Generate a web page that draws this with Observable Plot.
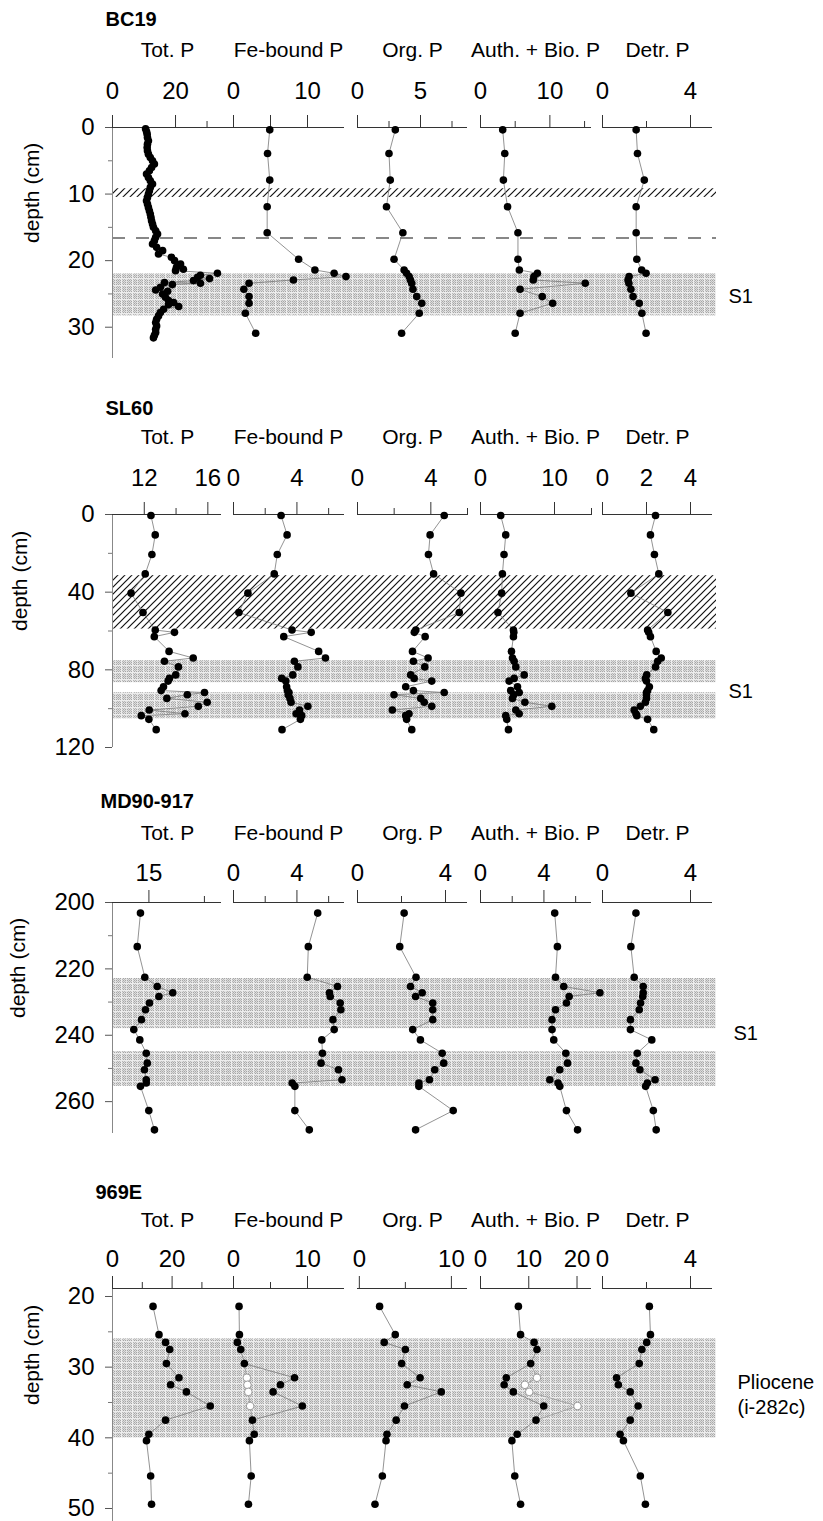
<!DOCTYPE html>
<html><head><meta charset="utf-8">
<script src="https://cdn.jsdelivr.net/npm/d3@7"></script>
<script src="https://cdn.jsdelivr.net/npm/@observablehq/plot@0.6"></script>
<style>
html,body{margin:0;padding:0;background:#fff;overflow:hidden;width:823px;height:1521px;}
#page{position:relative;width:823px;height:1521px;overflow:hidden;}
.core{position:absolute;left:0;width:823px;}
.core svg{position:absolute;top:0;overflow:visible;}
</style></head><body>
<svg width="0" height="0" style="position:absolute">
<defs>
<pattern id="dither" patternUnits="userSpaceOnUse" width="2" height="2">
  <rect width="2" height="2" fill="#dedede"/>
  <rect width="1" height="1" fill="#a6a6a6"/>
  <rect x="1" y="1" width="1" height="1" fill="#b8b8b8"/>
</pattern>
<pattern id="stipple" patternUnits="userSpaceOnUse" width="11" height="7">
  <rect width="11" height="7" fill="url(#dither)"/>
  <rect width="1" height="7" fill="#eeeeee"/>
  <rect x="5" width="1" height="7" fill="#e2e2e2"/>
  <rect width="11" height="1" fill="#ececec"/>
</pattern>
<pattern id="hatch" patternUnits="userSpaceOnUse" width="7" height="7">
  <path d="M-1,1L1,-1M0,7L7,0M6,8L8,6" stroke="#111" stroke-width="1.2"/>
</pattern>
</defs></svg>
<div id="page"></div>
<script>
const FONT = '"Liberation Sans", Arial, Helvetica, sans-serif';
const columnNames = ["Tot. P", "Fe-bound P", "Org. P", "Auth. + Bio. P", "Detr. P"];
const coreNames = ["BC19", "SL60", "MD90-917", "969E"];

// ---------- BC19 ----------
const bc19TotPDepth = [0.2,0.6,1.0,1.5,2.0,2.5,3.0,3.5,4.0,4.5,5.0,5.5,6.0,6.5,7.0,7.5,8.0,8.5,9.0,9.5,10.0,10.5,11.0,11.5,12.0,12.5,13.0,13.5,14.0,14.5,15.0,15.5,16.0,16.5,17.0,17.5,18.0,18.5,19.0,19.5,20.0,20.5,21.0,21.3,21.5,21.9,22.2,22.5,22.7,23.0,23.3,23.4,23.6,24.0,24.4,24.6,25.0,25.5,26.0,26.3,26.6,26.9,27.3,27.8,28.3,28.8,29.3,29.8,30.3,30.8,31.2,31.6];
const bc19TotP = [10.5,10.8,11,11.1,11.4,11.1,11,11.1,11.4,12,12.7,13.3,12.4,11.7,10.8,11.4,12,12.7,12,11.7,11.4,11.1,10.8,11.1,11.4,11.7,12,12.2,12.4,12.7,13,13.7,14.3,13.7,13.3,12.7,14,15.9,14.6,18.7,19.7,21.6,20.3,22.5,20,33.3,27.9,27,30.8,25.7,16.5,27.9,19,15.2,13.7,17.5,15.9,16.8,17.8,19.4,17.8,21,16.2,15.2,14.6,14,13.7,14,13.7,13.7,13.3,13];
const bc19Depth = [0.35,3.9,7.9,11.9,15.8,19.8,21.4,21.9,22.4,22.9,23.4,24.3,25.4,26.4,27.9,30.9];
const bc19FeP = [4.9,4.6,4.9,4.55,4.55,8.8,11.0,13.6,15.2,8.1,2.1,1.4,2.1,2.1,1.6,3.0];
const bc19OrgP = [3.0,2.5,2.6,2.3,3.6,2.9,3.7,3.9,4.1,4.2,4.3,4.4,4.7,5.1,4.9,3.5];
const bc19AuthP = [3.2,3.5,3.3,3.9,5.4,5.4,5.6,8.2,7.7,7.6,15.1,5.7,8.9,10.4,5.7,5.0];
const bc19DetrP = [1.53,1.59,1.9,1.53,1.53,1.56,1.78,1.98,1.21,1.16,1.2,1.29,1.39,1.67,1.79,1.98];
const bc19S1 = [[22,28.3]];
const bc19Hatch = [[9.2,10.5]];
const bc19Dash = [16.6];
const bc19DepthTicks = [0,10,20,30];
const bc19DepthMinor = [5,15,25];

// ---------- SL60 ----------
const sl60Depth = [0.5,10.5,20.6,30.6,40.5,50.5,59.5,60.7,62.9,70.5,73.9,75.6,78.5,82.6,84.4,85.8,88.7,90.7,91.7,92.8,94.7,96.7,98.8,100.7,102.6,103.6,105.5,110.8];
const sl60TotP = [12.42,12.69,12.48,12.06,11.17,11.92,12.69,13.9,12.63,13.56,15.08,13.27,14.15,13.98,13.58,13.5,13.21,13.06,15.79,14.71,13.42,15.96,15.4,12.31,14.56,11.81,12.29,12.75];
const sl60FeP = [3.0,3.38,2.76,2.57,0.91,0.34,3.69,4.9,3.17,5.37,5.8,3.84,4.06,3.74,3.04,3.3,3.35,3.4,3.5,3.45,3.56,3.63,4.69,4.16,3.95,4.3,4.22,3.06];
const sl60OrgP = [4.73,3.96,3.87,4.15,5.64,5.55,3.18,3.1,3.69,3.0,3.85,3.05,3.67,2.9,3.09,4.05,2.63,3.05,4.73,1.99,3.45,3.64,4.05,1.9,2.81,2.63,2.68,2.96];
const sl60AuthP = [2.73,3.41,3.18,2.96,2.86,2.36,4.45,4.5,4.45,4.18,4.32,4.55,4.77,5.91,4.55,3.87,5.0,4.09,5.23,4.5,4.32,6.0,9.64,4.77,5.23,3.41,3.55,3.78];
const sl60DetrP = [2.41,2.18,2.36,2.56,1.29,2.97,2.05,2.1,2.18,2.44,2.67,2.51,2.41,2.01,1.95,2.0,2.13,2.05,2.0,2.0,2.0,1.95,1.72,1.44,1.52,1.56,2.05,2.33];
const sl60S1 = [[75.3,86.6],[91.8,105.2]];
const sl60Hatch = [[31.5,59]];
const sl60DepthTicks = [0,40,80,120];
const sl60DepthMinor = [20,60,100];

// ---------- MD90-917 ----------
const md90Depth = [203.2,213.3,222.5,225.3,227.2,228.3,230.3,232.3,235.3,238.3,241.4,245.4,248.4,250.4,253.4,254.4,255.4,262.7,268.5];
const md90TotP = [14.24,13.95,14.63,15.75,17.15,15.9,15.05,14.69,14.33,13.64,14.18,14.76,14.85,14.6,14.76,14.76,14.24,14.99,15.5];
const md90FeP = [5.31,4.72,4.65,6.56,6.05,6.1,6.73,6.77,6.27,6.35,5.57,5.61,5.52,6.62,6.84,3.7,3.87,3.87,4.78];
const md90OrgP = [2.12,1.92,2.66,2.41,2.94,2.64,3.42,3.42,3.42,2.51,2.86,3.85,3.92,3.51,3.27,2.79,2.79,4.35,2.64];
const md90AuthP = [4.68,4.85,4.73,5.25,7.53,5.59,5.42,4.73,4.51,4.51,4.62,5.38,5.49,5.0,4.37,4.89,5.0,5.42,6.12];
const md90DetrP = [1.52,1.29,1.44,1.85,1.85,1.83,1.73,1.67,1.27,1.27,2.24,1.58,1.52,1.7,2.39,2.04,1.96,2.31,2.44];
const md90S1 = [[222.9,238],[244.9,255.4]];
const md90DepthTicks = [200,220,240,260];
const md90DepthMinor = [210,230,250];

// ---------- 969E ----------
const e969Depth = [21.4,25.4,26.5,27.5,29.5,31.5,32.5,33.5,35.5,37.5,39.5,40.4,45.4,49.4];
const e969TotP = [13.6,15.6,17.8,19.2,18.1,22.3,19.5,24.8,32.8,17.8,12.2,11.4,12.8,13.1];
const e969FeP = [0.75,0.8,0.52,0.98,1.47,8.25,6.34,5.35,9.3,2.56,2.8,2.15,2.39,2.02];
const e969OrgP = [2.2,3.9,2.7,5.0,4.6,6.6,5.2,8.9,4.9,4.0,3.0,2.9,2.5,1.7];
const e969AuthP = [7.85,8.3,11.1,11.7,10.4,5.35,4.9,6.8,13.1,11.5,7.6,6.5,7.1,8.3];
const e969DetrP = [2.13,2.18,2.01,1.79,1.67,0.64,0.72,1.26,1.62,1.26,0.8,0.95,1.72,1.95];
const e969OpenDepth = [29.5,31.5,32.5,33.5,35.5,37.5];
const e969FeOpen = [1.47,1.8,1.88,2.0,2.25,2.56];
const e969AuthOpen = [10.4,11.7,9.2,10.1,20.1,11.5];
const e969Band = [[26,40]];
const e969DepthTicks = [20,30,40,50];
const e969DepthMinor = [25,35,45];

// ---------- axis definitions (domain, labelled ticks, unlabelled ticks) ----------
const bc19Axes = [
  {domain:[0,38.4], labels:[0,20], short:[30]},
  {domain:[0,15], labels:[0,10], long:[5], short:[]},
  {domain:[0,8.73], labels:[0,5], short:[2.5,7.5]},
  {domain:[0,16], labels:[0,10], short:[5,15]},
  {domain:[0,5], labels:[0,4], short:[2]}
];
const sl60Axes = [
  {domain:[10,16.86], labels:[12,16], short:[14]},
  {domain:[0,7], labels:[0,4], short:[2,6]},
  {domain:[0,6], labels:[0,4], short:[2,6]},
  {domain:[0,15], labels:[0,10], short:[15]},
  {domain:[0,5], labels:[0,2,4], short:[]}
];
const md90Axes = [
  {domain:[11.72,21.54], labels:[15], short:[20]},
  {domain:[0,7], labels:[0,4], short:[2,6]},
  {domain:[0,5], labels:[0,4], short:[2]},
  {domain:[0,7], labels:[0,4], short:[2,6]},
  {domain:[0,5], labels:[0,4], short:[]}
];
const e969Axes = [
  {domain:[0,40.6], labels:[0,20], short:[10,30]},
  {domain:[0,15], labels:[0,10], short:[5]},
  {domain:[-0.2,11.75], labels:[0,10], short:[5]},
  {domain:[0,23], labels:[0,10,20], short:[]},
  {domain:[0,5], labels:[0,4], short:[2]}
];

// ---------- layout ----------
const FRAMES = [[112,221],[233,344],[357,467],[480,591],[602,712]];
const MT = 115, MB = 6, ML = 12, MR = 12;
const fmt = d => String(d);

const cores = [
  {name: coreNames[0], axisY:127, bottomY:358, depthDomain:[0,34.7], ticks:bc19DepthTicks, minor:bc19DepthMinor,
   s1:bc19S1, hatch:bc19Hatch, dash:bc19Dash, side:"S1", sideDx:12, sideDy:0, joined:true,
   tickPad:16, colLabelUp:71, titleUp:102, titleDx:-7, depthDx:-80, axes:bc19Axes,
   series:[{depth:bc19TotPDepth, values:bc19TotP},{depth:bc19Depth, values:bc19FeP},{depth:bc19Depth, values:bc19OrgP},{depth:bc19Depth, values:bc19AuthP},{depth:bc19Depth, values:bc19DetrP}]},
  {name: coreNames[1], axisY:514, bottomY:747, depthDomain:[0,120], ticks:sl60DepthTicks, minor:sl60DepthMinor,
   s1:sl60S1, hatch:sl60Hatch, dash:[], side:"S1", sideDx:12, sideDy:0, joined:false,
   tickPad:16, colLabelUp:71, titleUp:100, titleDx:-7, depthDx:-92, axes:sl60Axes,
   series:[sl60TotP, sl60FeP, sl60OrgP, sl60AuthP, sl60DetrP].map(v => ({depth:sl60Depth, values:v}))},
  {name: coreNames[2], axisY:902, bottomY:1133, depthDomain:[200,269.6], ticks:md90DepthTicks, minor:md90DepthMinor,
   s1:md90S1, hatch:[], dash:[], side:"S1", sideDx:17, sideDy:0, joined:false,
   tickPad:9, colLabelUp:63, titleUp:95, titleDx:-12, depthDx:-94, axes:md90Axes,
   series:[md90TotP, md90FeP, md90OrgP, md90AuthP, md90DetrP].map(v => ({depth:md90Depth, values:v}))},
  {name: coreNames[3], axisY:1288, bottomY:1521, depthDomain:[18.87,51.84], ticks:e969DepthTicks, minor:e969DepthMinor,
   s1:e969Band, hatch:[], dash:[], side:"Pliocene\n(i-282c)", sideDx:21, sideDy:5, joined:true,
   tickPad:9, colLabelUp:62, titleUp:90, titleDx:-17, depthDx:-80, axes:e969Axes,
   series:[
     {depth:e969Depth, values:e969TotP},
     {depth:e969Depth, values:e969FeP, openDepth:e969OpenDepth, open:e969FeOpen},
     {depth:e969Depth, values:e969OrgP},
     {depth:e969Depth, values:e969AuthP, openDepth:e969OpenDepth, open:e969AuthOpen},
     {depth:e969Depth, values:e969DetrP}]}
];

const page = document.getElementById("page");
const baseStyle = {fontFamily: FONT, background: "transparent", overflow: "visible", color: "#000"};

for (const core of cores) {
  const h = MT + (core.bottomY - core.axisY) + MB;
  const div = document.createElement("div");
  div.className = "core";
  div.style.top = (core.axisY - MT) + "px";
  div.style.height = h + "px";
  page.appendChild(div);

  const lo = d3.min(core.s1, d => d[0]), hi = d3.max(core.s1, d => d[1]);
  const sideData = [{label: core.side, y: (lo + hi) / 2}];

  const base = Plot.plot({
    width: 823, height: h,
    marginTop: MT, marginBottom: MB, marginLeft: 112, marginRight: 107,
    x: {domain: [0, 1], axis: null},
    y: {domain: core.depthDomain, reverse: true, axis: null},
    style: baseStyle,
    marks: [
      Plot.rect(core.s1, {y1: d => d[0], y2: d => d[1], fill: "url(#stipple)"}),
      Plot.rect(core.hatch, {y1: d => d[0], y2: d => d[1], fill: "url(#hatch)"}),
      Plot.ruleY(core.dash, {stroke: "#111", strokeWidth: 1.1, strokeDasharray: "13,11"}),
      Plot.ruleX([0], {stroke: "#888", strokeWidth: 1}),
      Plot.axisY({ticks: core.ticks, anchor: "left", tickSize: 7, tickPadding: 11, fontSize: 24, tickFormat: fmt, label: null, stroke: "#555"}),
      Plot.axisY({ticks: core.minor, anchor: "left", tickSize: 4, tickFormat: () => "", label: null, stroke: "#777"}),
      Plot.text([core.name], {frameAnchor: "top-left", dx: core.titleDx, dy: -core.titleUp, textAnchor: "start", lineAnchor: "bottom", fontWeight: "bold", fontSize: 20}),
      Plot.text(["depth (cm)"], {frameAnchor: "left", dx: core.depthDx, rotate: -90, fontSize: 21}),
      Plot.text(sideData, {y: "y", text: "label", frameAnchor: "right", dx: core.sideDx, dy: core.sideDy, textAnchor: "start", lineAnchor: "middle", fontSize: 20, lineHeight: 1.25})
    ]
  });
  base.style.left = "0px";
  div.appendChild(base);

  core.series.forEach((s, i) => {
    const ax = core.axes[i];
    const [x0, x1] = (i === 0 && core.joined) ? [112, 233] : FRAMES[i];
    const data = s.depth.map((d, k) => ({depth: d, value: s.values[k]}));
    const marks = [
      Plot.ruleY([core.depthDomain[0]], {stroke: "#333", strokeWidth: 1}),
      Plot.axisX({ticks: ax.labels, anchor: "top", tickSize: 13, tickPadding: core.tickPad, fontSize: 24, tickFormat: fmt, label: null, stroke: "#333"}),
      Plot.text([columnNames[i]], {frameAnchor: "top-left", dx: 55, dy: -core.colLabelUp, lineAnchor: "bottom", textAnchor: "middle", fontSize: 21})
    ];
    if (ax.long && ax.long.length) marks.push(Plot.axisX({ticks: ax.long, anchor: "top", tickSize: 13, tickFormat: () => "", label: null, stroke: "#333"}));
    if (ax.short && ax.short.length) marks.push(Plot.axisX({ticks: ax.short, anchor: "top", tickSize: 7, tickFormat: () => "", label: null, stroke: "#333"}));
    if (s.open) {
      const od = s.openDepth.map((d, k) => ({depth: d, value: s.open[k]}));
      marks.push(Plot.line(od, {x: "value", y: "depth", stroke: "#999", strokeWidth: 0.8}));
      marks.push(Plot.dot(od.slice(1, -1), {x: "value", y: "depth", r: 3.8, fill: "white", stroke: "#888", strokeWidth: 0.8}));
    }
    marks.push(Plot.line(data, {x: "value", y: "depth", stroke: "#777", strokeWidth: 0.8}));
    marks.push(Plot.dot(data, {x: "value", y: "depth", r: 3.8, fill: "#000", stroke: "none"}));
    const p = Plot.plot({
      width: (x1 - x0) + ML + MR, height: h,
      marginTop: MT, marginBottom: MB, marginLeft: ML, marginRight: MR,
      x: {domain: ax.domain},
      y: {domain: core.depthDomain, reverse: true, axis: null},
      style: baseStyle,
      marks
    });
    p.style.left = (x0 - ML) + "px";
    div.appendChild(p);
  });
}
</script>
</body></html>
